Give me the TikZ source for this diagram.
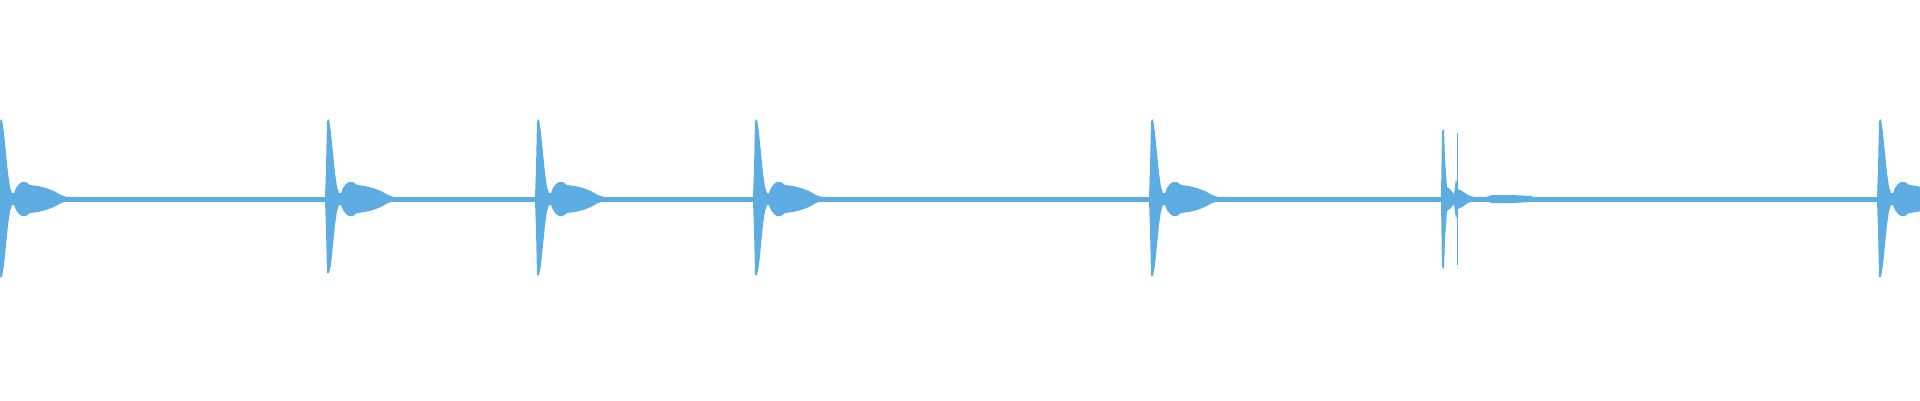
\documentclass[tikz,border=0pt]{standalone}
\definecolor{wave}{HTML}{5DADE2}
\newcommand\wpulse[2]{%
\begin{scope}[shift={(#1,199)}]
\fill[wave] (-3,-2) -- (-2,-30) -- (-1,-78) -- (1,-80) -- (3,-66) -- (5,-46) -- (7,-26) -- (9,-12) -- (11,-6) -- (13,-6) -- (15,-11) -- (18,-15) -- (21,-17) -- (25,-17) -- (29,-14) -- (37,-13) -- (45,-11) -- (53,-8) -- (60,-4) -- (66,-2)
 -- (66,2) -- (60,4) -- (53,8) -- (45,11) -- (37,13) -- (29,14) -- (25,17) -- (21,17) -- (18,15) -- (15,11) -- (13,6) -- (11,6) -- (9,12) -- (7,26) -- (5,46) -- (3,66) -- (1,#2) -- (-1,#2) -- (-2,30) -- (-3,2) -- cycle;
\end{scope}}
\begin{document}
\begin{tikzpicture}[x=1pt,y=-1pt]
\useasboundingbox (0,0) rectangle (1920,400);
\fill[wave] (0,197) rectangle (1920,201.5);
\wpulse{1}{78}
\wpulse{328}{74}
\wpulse{538}{76}
\wpulse{756}{76}
\wpulse{1152}{77}
\wpulse{1880}{78}
\begin{scope}[shift={(1442,199)}]
\fill[wave] (-1,-3) -- (0,-68) -- (2,-70) -- (3,-40) -- (5,-12) -- (8,-10) -- (12,-5) -- (14,-20) -- (16,-10) -- (20,-8) -- (26,-4) -- (32,-2) -- (38,-1)
 -- (38,1) -- (32,2) -- (26,4) -- (20,8) -- (16,10) -- (14,20) -- (12,5) -- (8,10) -- (5,12) -- (3,40) -- (2,70) -- (0,68) -- (-1,3) -- cycle;
\fill[wave] (14.5,-66) rectangle (15.5,66);
\fill[wave] (44,-2) -- (50,-4) -- (70,-4) -- (90,-3) -- (90,3) -- (70,4) -- (50,4) -- (44,2) -- cycle;
\end{scope}
\end{tikzpicture}
\end{document}
